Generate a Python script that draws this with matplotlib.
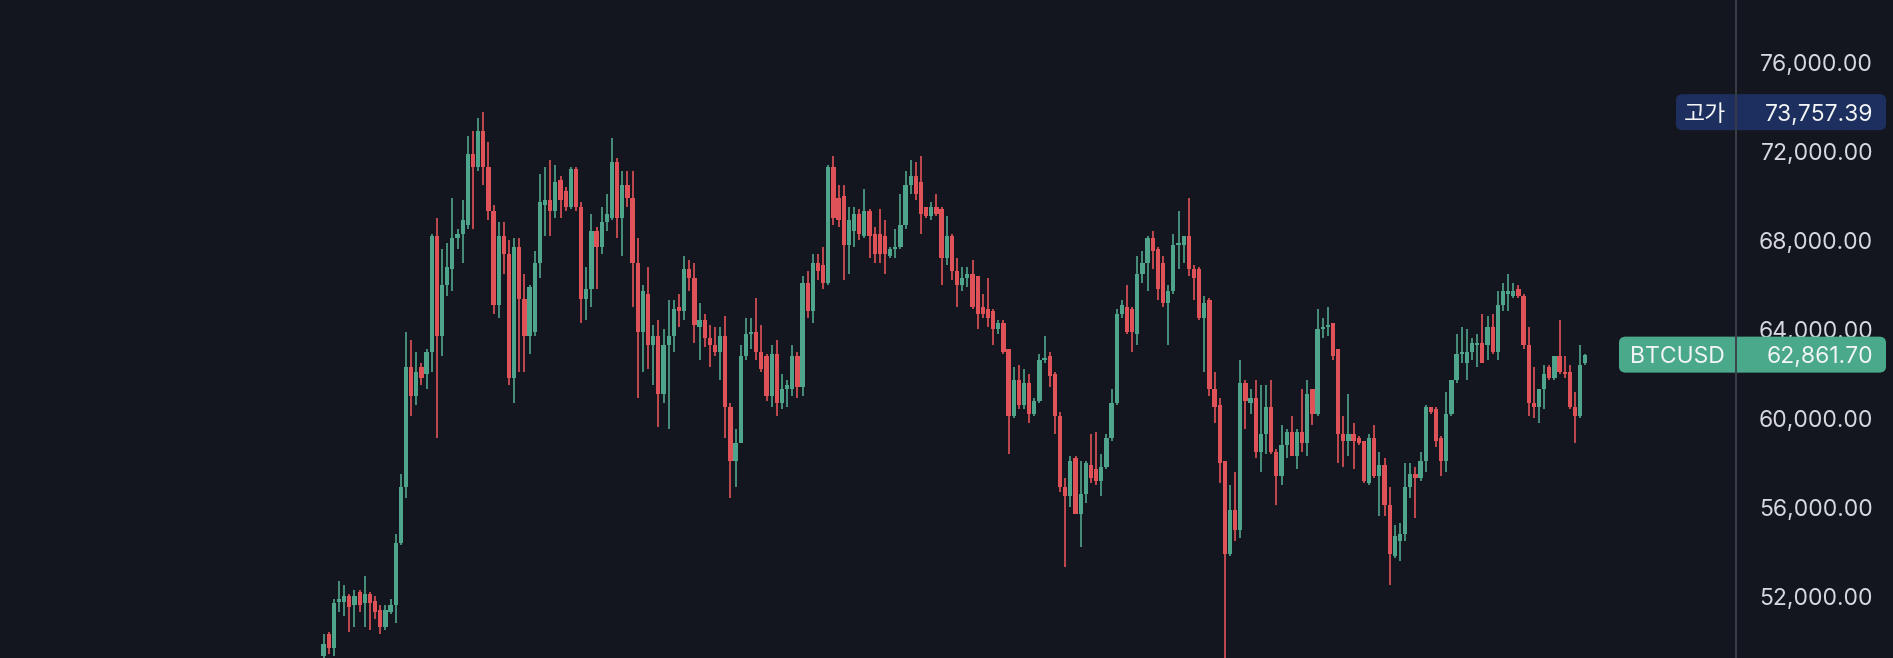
import numpy as np
import matplotlib
matplotlib.use("Agg")
import matplotlib.pyplot as plt
from matplotlib.patches import FancyBboxPatch

# ---- data (prices in thousands USD) ----
opens = [49.3,50.3,49.7,51.75,51.75,52.0,51.6,52.2,51.7,52.1,51.8,51.4,50.6,51.3,51.6,54.4,56.9,62.3,61.0,62.3,
         62.0,63.0,68.2,63.7,66.0,66.7,68.1,68.3,68.7,71.9,71.3,72.9,71.3,69.3,65.1,68.2,67.4,61.8,67.7,65.35,
         63.7,63.9,67.0,69.6,69.8,69.3,70.7,70.2,69.5,71.2,69.5,65.35,65.8,68.4,67.7,68.8,69.0,71.5,69.0,70.5,
         69.9,67.0,63.9,65.6,63.3,63.7,61.1,63.3,63.7,65.0,64.8,66.7,66.3,64.1,64.4,63.6,63.3,63.0,63.7,60.5,
         58.1,58.9,62.8,63.8,63.9,63.0,62.8,61.0,62.9,60.7,61.3,61.3,62.8,61.4,66.1,64.8,67.0,66.9,66.1,71.3,
         69.9,70.0,67.8,68.4,69.2,68.2,69.3,68.3,68.3,68.2,67.3,67.6,67.7,68.7,70.5,70.9,70.6,69.5,69.1,69.5,
         69.4,67.2,68.2,66.6,66.0,66.3,66.5,66.4,65.0,64.9,64.8,64.0,64.3,63.1,60.1,61.7,60.6,61.6,60.2,60.8,
         62.6,62.8,62.0,60.1,56.9,56.5,58.2,55.7,56.6,57.9,57.7,57.2,57.8,59.1,60.7,64.7,65.0,64.9,63.8,66.5,
         67.0,68.1,67.6,67.0,65.2,65.7,67.8,67.8,68.2,66.7,66.7,64.5,65.3,61.3,60.6,58.1,53.9,55.9,55.0,61.6,
         60.7,60.9,58.5,59.3,60.5,58.5,57.4,58.8,59.4,58.3,59.4,58.9,61.3,60.2,64.0,64.1,64.3,63.1,59.3,59.0,
         59.3,59.1,59.0,57.1,59.1,57.4,57.9,56.1,53.8,54.5,54.8,56.9,57.5,57.3,58.1,60.5,60.4,59.1,58.1,60.2,
         61.7,62.9,62.5,63.0,63.3,63.4,63.3,64.1,63.0,65.1,65.6,65.5,65.8,65.5,63.3,60.7,60.5,61.3,62.3,61.8,
         62.8,62.1,62.1,60.5,60.1,62.5]
highs = [50.3,50.4,51.9,52.7,52.5,52.1,52.3,52.3,52.9,52.2,52.0,51.6,51.6,51.9,54.8,57.5,63.9,63.5,63.0,62.5,
         63.1,68.3,69.0,67.6,67.9,69.9,68.5,69.8,72.7,72.9,73.5,73.757,72.4,69.6,68.8,68.8,68.0,68.1,68.1,66.5,
         66.0,67.5,71.0,71.3,71.6,71.4,70.9,70.4,71.3,71.3,69.7,66.8,69.2,68.6,69.5,70.1,72.6,71.7,71.1,71.1,
         71.1,68.1,66.0,66.8,64.2,64.4,64.0,65.3,65.3,65.6,67.3,67.1,67.0,65.2,64.7,64.2,64.1,64.1,64.6,60.7,
         59.5,63.3,64.5,64.5,65.4,64.2,62.9,63.3,63.5,62.0,61.7,63.3,63.0,66.4,66.6,67.4,67.4,67.7,71.4,71.8,
         70.5,70.5,69.5,69.5,69.4,70.3,69.4,68.6,69.4,68.9,67.7,68.5,70.1,71.1,71.6,71.5,71.8,69.5,69.7,70.1,
         69.5,69.1,68.3,67.2,66.8,66.8,67.1,66.4,65.6,66.3,64.9,64.4,64.4,63.1,62.3,62.4,62.2,62.0,60.9,62.9,
         63.7,63.0,62.1,60.3,57.3,58.3,58.3,58.1,58.1,59.3,59.4,58.4,59.3,61.3,64.9,65.3,66.0,65.0,67.3,67.5,
         68.2,68.4,67.7,67.3,66.0,68.3,69.3,68.2,69.9,66.9,66.8,65.5,65.4,62.1,60.9,58.1,57.0,57.6,62.6,61.7,
         61.3,61.7,61.5,61.5,61.7,58.6,59.7,59.5,60.1,59.5,61.3,61.7,61.3,64.9,64.5,65.0,64.3,63.1,60.1,61.1,
         59.8,59.2,59.0,59.3,59.7,58.5,58.2,56.9,55.2,55.3,58.0,58.0,57.8,58.5,60.6,60.5,60.5,59.2,61.2,61.7,
         63.8,64.1,64.0,63.6,63.8,64.7,64.6,64.7,65.7,66.1,66.5,66.1,66.0,65.6,64.1,62.3,61.3,62.4,62.4,62.8,
         64.4,62.8,62.4,61.2,63.3,62.9]
lows = [49.1,49.4,49.3,51.3,51.1,50.4,50.6,51.3,50.6,50.5,51.0,50.3,50.5,51.2,50.8,54.3,56.4,60.1,60.6,61.5,
        61.3,62.1,59.1,62.8,65.5,65.7,67.6,67.0,68.5,68.5,71.1,70.5,68.9,64.7,64.5,66.5,61.5,60.7,62.1,62.1,
        62.9,63.7,66.3,68.2,68.2,69.0,69.0,69.3,69.4,69.3,64.3,64.4,65.0,65.8,67.4,68.4,68.9,68.1,67.3,69.5,
        65.0,60.9,62.1,62.2,61.5,59.6,60.7,59.5,63.0,64.1,64.4,65.7,63.4,62.6,63.2,62.3,62.8,61.7,59.1,56.4,
        56.9,58.9,62.6,63.1,62.6,62.1,60.8,60.5,60.1,60.4,60.5,61.0,60.9,61.0,64.5,64.3,66.2,65.8,66.0,68.7,
        68.6,66.2,66.5,67.7,68.0,68.1,67.2,67.0,67.0,66.5,67.2,67.2,67.6,68.5,70.1,69.8,68.3,69.0,68.9,69.1,
        66.0,66.9,66.2,65.0,65.7,65.9,64.9,64.0,64.5,64.1,63.3,63.8,62.9,58.4,60.0,60.4,60.4,59.8,60.1,60.7,
        62.5,61.4,59.3,56.7,53.3,56.0,55.7,54.2,56.2,57.1,57.0,56.5,57.7,59.0,60.6,64.5,63.8,63.0,63.3,66.1,
        65.7,66.7,65.3,65.0,63.3,65.6,66.7,67.0,66.4,65.3,64.4,62.1,61.0,59.8,57.1,48.9,53.8,54.5,54.6,59.5,
        60.2,58.2,57.6,58.4,58.4,56.1,57.0,58.2,58.3,57.7,58.5,58.3,59.7,60.1,63.6,63.7,62.6,58.0,57.8,58.3,
        57.7,58.8,57.1,57.0,57.3,55.6,55.6,52.5,53.7,53.6,54.5,56.4,55.5,57.2,57.6,60.2,58.7,57.4,57.6,60.1,
        61.6,62.5,61.7,62.6,62.3,62.5,62.6,62.9,62.6,64.8,64.8,65.4,65.4,63.1,60.1,60.0,59.8,60.4,61.7,61.7,
        62.0,61.8,60.4,58.9,60.0,62.4]
closes = [49.85,49.7,51.7,51.9,52.0,51.5,52.0,51.6,52.1,51.7,51.3,50.6,51.4,51.6,54.4,56.9,62.3,61.0,62.1,61.8,
          63.0,68.2,63.7,66.0,66.8,68.1,68.3,68.9,71.9,71.3,72.9,71.3,69.3,65.1,68.2,67.4,61.8,67.7,65.35,63.7,
          65.9,67.0,69.7,69.8,69.3,70.6,69.8,69.5,71.2,69.5,65.35,65.8,68.4,67.7,68.8,69.2,71.5,69.0,70.5,69.9,
          67.0,63.9,65.7,63.3,63.7,61.1,63.3,63.7,64.9,64.8,66.7,66.3,64.2,64.4,63.6,63.3,63.0,63.7,60.5,58.1,
          58.9,62.8,63.8,63.9,63.0,62.2,61.0,62.9,60.7,61.3,61.5,62.8,61.4,66.1,64.8,67.0,66.6,66.1,71.3,69.0,
          68.9,67.8,68.9,69.2,68.3,69.3,68.2,67.4,67.4,67.4,67.6,67.7,68.7,70.5,70.9,70.1,69.2,69.1,69.5,69.2,
          67.2,68.2,66.6,66.0,66.3,66.5,65.0,64.7,64.7,64.5,64.0,64.3,63.0,60.1,61.7,60.6,61.6,60.2,60.8,62.6,
          62.7,61.9,60.1,56.9,56.5,58.1,55.7,56.6,58.0,57.3,57.2,57.8,59.1,60.7,64.7,65.1,63.9,63.9,66.5,67.0,
          68.1,67.5,65.8,65.2,65.7,67.8,67.9,68.2,66.7,66.3,64.5,65.2,61.3,60.5,58.0,53.9,55.9,55.0,61.6,60.8,
          60.9,58.5,59.3,60.5,58.5,57.4,58.8,59.4,58.3,59.4,58.9,61.1,60.2,64.0,64.1,64.2,62.8,59.3,59.0,59.3,
          59.0,58.9,57.2,59.1,57.4,57.9,56.1,53.9,54.7,54.8,56.9,57.5,57.3,58.1,60.5,60.3,59.0,58.1,60.2,61.7,
          62.9,63.0,63.0,63.4,63.4,62.5,64.1,63.0,65.1,65.7,65.7,65.7,65.5,63.3,60.7,60.5,61.3,62.0,61.8,62.8,
          62.1,62.0,60.5,60.1,62.4,62.8617]

price_ticks = [52000, 56000, 60000, 64000, 68000, 72000, 76000]
high_label = "고가"
high_value = 73757.39
symbol = "BTCUSD"
last_value = 62861.70

# ---- style ----
BG = "#14161f"
UP = "#4fa58b"
DOWN = "#df5358"
TXT = "#d6d8de"

W, H = 1893, 658
fig = plt.figure(figsize=(W / 100, H / 100), dpi=100, facecolor=BG)
plot_w = 1736
ax = fig.add_axes([0, 0, plot_w / W, 1])
ax.set_facecolor(BG)

o = np.array(opens) * 1000
h = np.array(highs) * 1000
l = np.array(lows) * 1000
c = np.array(closes) * 1000
x = np.arange(len(o))
up = c >= o
cols = np.where(up, UP, DOWN)

ax.vlines(x, l, h, colors=cols, linewidth=1.4, alpha=0.85, zorder=2)
bottom = np.minimum(o, c)
height = np.maximum(np.abs(c - o), 70)
ax.bar(x, height, bottom=bottom, width=0.82, color=cols, linewidth=0, zorder=3)

# axis scaling: candle 0 at px 323.6, spacing 5.15 px
x0px, step = 323.6, 5.15
ax.set_xlim(-x0px / step, (plot_w - x0px) / step)
# y: 64000 at px 329.3 from top, 44.94 $/px
ax.set_ylim(64000 - (H - 329.3) * 44.94, 64000 + 329.3 * 44.94)

for s in ["top", "left", "bottom"]:
    ax.spines[s].set_visible(False)
ax.spines["right"].set_color("#3a3d47")
ax.spines["right"].set_linewidth(1.3)
ax.set_xticks([])
ax.set_yticks(price_ticks)
ax.set_yticklabels([f"{v:,.2f}" for v in price_ticks])
ax.yaxis.tick_right()
ax.tick_params(axis="y", length=0, pad=(1873 - plot_w) * 0.72, labelsize=16.5, labelcolor=TXT)
for lab in ax.get_yticklabels():
    lab.set_ha("right")
    lab.set_family(["Inter", "DejaVu Sans"])

tr = ax.get_yaxis_transform()
dollar_per_px = 44.94

def tag(x0px_, x1px_, value, color, left_text, left_xpx, left_font):
    hgt = 36 * dollar_per_px
    box = FancyBboxPatch((x0px_ / plot_w, value - hgt / 2), (x1px_ - x0px_) / plot_w, hgt,
                         boxstyle="round,pad=0,rounding_size=0.004", transform=tr,
                         facecolor=color, edgecolor="none", clip_on=False, zorder=5,
                         mutation_aspect=hgt / 0.004 / 6)
    ax.add_patch(box)
    ax.text(1873 / plot_w, value, f"{value:,.2f}", transform=tr, ha="right", va="center_baseline",
            fontsize=16.5, color="#f2f4f5", family=["Inter", "DejaVu Sans"], zorder=6, clip_on=False)
    ax.text(left_xpx / plot_w, value, left_text, transform=tr, ha="center", va="center_baseline",
            fontsize=16.5, color="#f2f4f5", family=left_font, zorder=6, clip_on=False)

tag(1676, 1886, high_value, "#1d2f5f", high_label, 1705, ["Noto Sans CJK KR", "DejaVu Sans"])
tag(1619, 1886, last_value, "#4aa98a", symbol, 1677, ["Inter", "DejaVu Sans"])
# redraw separator over boxes
ax.axvline(ax.get_xlim()[1], color="#3a3d47", linewidth=1.3, zorder=7, clip_on=False)

fig.savefig("out.png", dpi=100, facecolor=BG)
